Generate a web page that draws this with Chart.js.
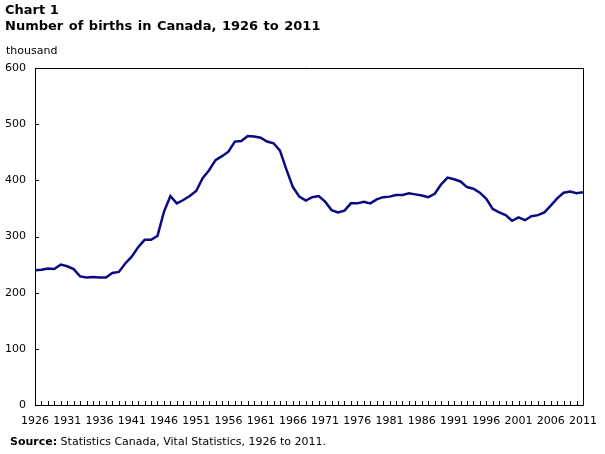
<!DOCTYPE html>
<html>
<head>
<meta charset="utf-8">
<script src="https://cdn.jsdelivr.net/npm/chart.js@4"></script>
<style>
  html, body { margin:0; padding:0; background:#fff; }
  #wrap { position:relative; width:605px; height:454px; font-family:"DejaVu Sans", Verdana, sans-serif; color:#000; }
  canvas { position:absolute; left:0; top:0; }
  .t { position:absolute; white-space:nowrap; }
  #t1 { left:5px; top:2px; font-size:13px; font-weight:bold; }
  #t2 { left:5px; top:18px; font-size:13px; font-weight:bold; word-spacing:1px; }
  #unit { left:6px; top:44px; font-size:11px; }
  #src { left:10px; top:435px; font-size:11px; }
</style>
</head>
<body>
<div id="wrap">
  <canvas id="c" width="605" height="454"></canvas>
  <div class="t" id="t1">Chart 1</div>
  <div class="t" id="t2">Number of births in Canada, 1926 to 2011</div>
  <div class="t" id="unit">thousand</div>
  <div class="t" id="src"><b>Source:</b> Statistics Canada, Vital Statistics, 1926 to 2011.</div>
</div>
<script>
const years = [];
for (let y = 1926; y <= 2011; y++) years.push(y);
const births = [240,241,243,242,250,247,242,229,227,228,227,227,235,237,252,264,281,294,294,301,
  344,372,359,365,372,381,404,418,436,443,451,469,470,479,478,476,469,466,453,419,
  388,371,364,370,372,362,347,343,346,359,359,362,359,366,370,371,374,374,377,375,
  373,370,376,393,405,402,398,388,385,378,367,349,343,338,328,334,329,336,338,343,
  355,368,378,380,377,379];
const yTicks = [0,100,200,300,400,500,600];

const frame = {
  id: 'frame',
  afterDraw(chart) {
    const ctx = chart.ctx, a = chart.chartArea;
    const xs = chart.scales.x, ys = chart.scales.y;
    ctx.save();
    ctx.strokeStyle = '#000';
    ctx.lineWidth = 1;
    ctx.beginPath();
    ctx.rect(Math.round(a.left) + 0.5, Math.round(a.top) + 0.5, Math.round(a.right - a.left), Math.round(a.bottom - a.top));
    ctx.stroke();
    ctx.beginPath();
    years.forEach(v => {
      const px = Math.round(xs.getPixelForValue(v)) + 0.5;
      ctx.moveTo(px, Math.round(a.bottom));
      ctx.lineTo(px, Math.round(a.bottom) - 4);
    });
    yTicks.forEach(v => {
      const py = Math.round(ys.getPixelForValue(v)) + 0.5;
      ctx.moveTo(Math.round(a.left), py);
      ctx.lineTo(Math.round(a.left) + 4, py);
    });
    ctx.stroke();
    ctx.restore();
  }
};

new Chart(document.getElementById('c'), {
  type: 'line',
  data: {
    datasets: [{
      data: years.map((y, i) => ({x: y, y: births[i]})),
      borderColor: '#0a0a82',
      borderWidth: 2.5,
      pointRadius: 0,
      tension: 0,
      fill: false
    }]
  },
  options: {
    responsive: false,
    animation: false,
    layout: { padding: { left: 0, right: 22, top: 68, bottom: 0 } },
    plugins: { legend: { display: false }, tooltip: { enabled: false } },
    scales: {
      x: {
        type: 'linear', min: 1926, max: 2011,
        afterFit(s) { s.height = 49; s.paddingRight = 0; s.paddingLeft = 0; },
        grid: { display: false, drawTicks: false },
        border: { display: false },
        ticks: { stepSize: 5, padding: 10, color: '#000', font: { family: 'DejaVu Sans', size: 11 },
          callback: v => String(v), maxRotation: 0, autoSkip: false }
      },
      y: {
        min: 0, max: 600,
        afterFit(s) { s.width = 35; },
        grid: { display: false, drawTicks: false },
        border: { display: false },
        ticks: { stepSize: 100, padding: 9, color: '#000', font: { family: 'DejaVu Sans', size: 11 } }
      }
    }
  },
  plugins: [frame]
});
</script>
</body>
</html>
